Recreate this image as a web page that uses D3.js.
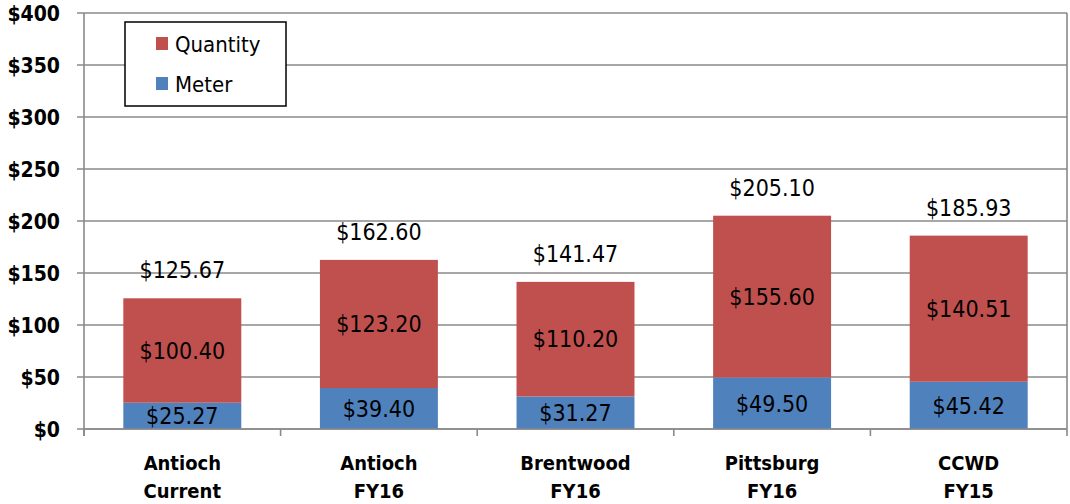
<!DOCTYPE html>
<html>
<head>
<meta charset="utf-8">
<script src="https://cdn.jsdelivr.net/npm/d3@7"></script>
<style>
  body { margin: 0; background: #fff; }
  svg text { font-family: "DejaVu Sans Condensed", "Liberation Sans Narrow", sans-serif; fill: #000; }
</style>
</head>
<body>
<div id="chart"></div>
<script>
// categories (two-line labels)
var categories = ["Antioch|Current", "Antioch|FY16", "Brentwood|FY16", "Pittsburg|FY16", "CCWD|FY15"];
// series values
var meter = [25.27, 39.40, 31.27, 49.50, 45.42];
var quantity = [100.40, 123.20, 110.20, 155.60, 140.51];
var totals = [125.67, 162.60, 141.47, 205.10, 185.93];
// y ticks
var yTicks = [0, 50, 100, 150, 200, 250, 300, 350, 400];

var seriesNames = ["Meter", "Quantity"];
var colors = { Meter: "#4F81BD", Quantity: "#C0504D" };

var W = 1070, H = 504;
var margin = { top: 13, right: 3, bottom: 75, left: 84 };
var width = W - margin.left - margin.right,
    height = H - margin.top - margin.bottom;

var svg = d3.select("#chart").append("svg")
  .attr("width", W)
  .attr("height", H);

var g = svg.append("g")
  .attr("transform", "translate(" + margin.left + "," + margin.top + ")");

var xScale = d3.scaleBand()
  .domain(categories)
  .range([0, width])
  .paddingInner(0.4)
  .paddingOuter(0.2);

var yScale = d3.scaleLinear()
  .domain([0, 400])
  .range([height, 0]);

// gridlines
g.append("g")
  .selectAll("line")
  .data(yTicks)
  .enter().append("line")
  .attr("x1", -7).attr("x2", width)
  .attr("y1", function(d) { return yScale(d); })
  .attr("y2", function(d) { return yScale(d); })
  .attr("stroke", "#8a8a8a")
  .attr("stroke-width", 1.6);

// right border
g.append("line")
  .attr("x1", width).attr("x2", width)
  .attr("y1", 0).attr("y2", height)
  .attr("stroke", "#8a8a8a").attr("stroke-width", 1.6);

// y axis labels
g.append("g")
  .selectAll("text")
  .data(yTicks)
  .enter().append("text")
  .attr("x", -24)
  .attr("y", function(d) { return yScale(d); })
  .attr("dy", "0.36em")
  .attr("text-anchor", "end")
  .style("font-size", "21px")
  .style("font-weight", "bold")
  .text(function(d) { return "$" + d; });

// stacked bars
var table = categories.map(function(c, i) {
  return { cat: c, Meter: meter[i], Quantity: quantity[i] };
});
var stacked = d3.stack().keys(seriesNames)(table);

var layers = g.selectAll(".layer")
  .data(stacked)
  .enter().append("g")
  .attr("class", "layer")
  .attr("fill", function(d) { return colors[d.key]; });

layers.selectAll("rect")
  .data(function(d) { return d; })
  .enter().append("rect")
  .attr("x", function(d) { return xScale(d.data.cat); })
  .attr("width", xScale.bandwidth())
  .attr("y", function(d) { return yScale(d[1]); })
  .attr("height", function(d) { return yScale(d[0]) - yScale(d[1]); });

// segment labels
layers.selectAll("text")
  .data(function(d) { return d.map(function(p) { p.key = d.key; return p; }); })
  .enter().append("text")
  .attr("x", function(d) { return xScale(d.data.cat) + xScale.bandwidth() / 2; })
  .attr("y", function(d) { return (yScale(d[0]) + yScale(d[1])) / 2; })
  .attr("dy", "0.36em")
  .attr("text-anchor", "middle")
  .style("font-size", "23px")
  .text(function(d) { return "$" + d.data[d.key].toFixed(2); });

// total labels
g.append("g")
  .selectAll("text")
  .data(totals)
  .enter().append("text")
  .attr("x", function(d, i) { return xScale(categories[i]) + xScale.bandwidth() / 2; })
  .attr("y", function(d) { return yScale(d) - 20; })
  .attr("text-anchor", "middle")
  .style("font-size", "23px")
  .text(function(d) { return "$" + d.toFixed(2); });

// x axis line, ticks at category boundaries
g.append("line")
  .attr("x1", 0).attr("x2", width)
  .attr("y1", height).attr("y2", height)
  .attr("stroke", "#8a8a8a").attr("stroke-width", 1.6);
var step = width / categories.length;
g.append("g")
  .selectAll("line")
  .data(d3.range(categories.length + 1))
  .enter().append("line")
  .attr("x1", function(d) { return d * step; })
  .attr("x2", function(d) { return d * step; })
  .attr("y1", height).attr("y2", height + 7)
  .attr("stroke", "#8a8a8a").attr("stroke-width", 1.6);
// left axis
g.append("line")
  .attr("x1", 0).attr("x2", 0)
  .attr("y1", 0).attr("y2", height + 7)
  .attr("stroke", "#8a8a8a").attr("stroke-width", 1.6);

// category labels
var catLabels = g.append("g")
  .selectAll("text")
  .data(categories)
  .enter().append("text")
  .attr("x", function(d) { return xScale(d) + xScale.bandwidth() / 2; })
  .attr("y", height + 41)
  .attr("text-anchor", "middle")
  .style("font-size", "20px")
  .style("font-weight", "bold");
catLabels.each(function(d) {
  var parts = d.split("|");
  var t = d3.select(this);
  var cx = t.attr("x");
  parts.forEach(function(p, k) {
    t.append("tspan").attr("x", cx).attr("dy", k === 0 ? 0 : 28).text(p);
  });
});

// legend
var legend = svg.append("g").attr("transform", "translate(125,22)");
legend.append("rect")
  .attr("width", 161).attr("height", 84)
  .attr("fill", "#fff").attr("stroke", "#000").attr("stroke-width", 1.5);
["Quantity", "Meter"].forEach(function(name, i) {
  legend.append("rect")
    .attr("x", 31).attr("y", 15 + i * 40)
    .attr("width", 12).attr("height", 13)
    .attr("fill", colors[name]);
  legend.append("text")
    .attr("x", 50).attr("y", 22 + i * 40)
    .attr("dy", "0.36em")
    .style("font-size", "22px")
    .text(name);
});
</script>
</body>
</html>
